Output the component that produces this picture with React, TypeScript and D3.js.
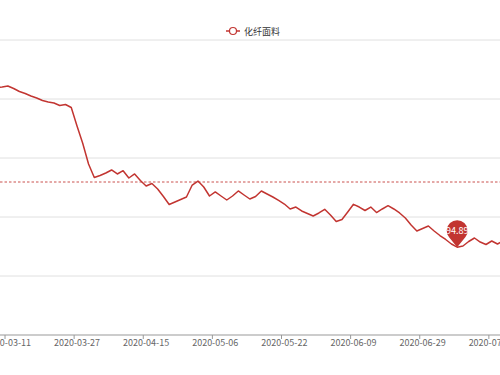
import React from "react";
import * as d3 from "d3";

const seriesName = "化纤面料";

const dates: string[] = [
  "2020-03-09", "2020-03-10",
  "2020-03-11", "2020-03-12", "2020-03-13", "2020-03-16", "2020-03-17", "2020-03-18", "2020-03-19", "2020-03-20",
  "2020-03-23", "2020-03-24", "2020-03-25", "2020-03-26", "2020-03-27", "2020-03-30", "2020-03-31", "2020-04-01",
  "2020-04-02", "2020-04-03", "2020-04-07", "2020-04-08", "2020-04-09", "2020-04-10", "2020-04-13", "2020-04-14",
  "2020-04-15", "2020-04-16", "2020-04-17", "2020-04-20", "2020-04-21", "2020-04-22", "2020-04-23", "2020-04-24",
  "2020-04-27", "2020-04-28", "2020-04-29", "2020-04-30", "2020-05-06", "2020-05-07", "2020-05-08", "2020-05-11",
  "2020-05-12", "2020-05-13", "2020-05-14", "2020-05-15", "2020-05-18", "2020-05-19", "2020-05-20", "2020-05-21",
  "2020-05-22", "2020-05-25", "2020-05-26", "2020-05-27", "2020-05-28", "2020-05-29", "2020-06-01", "2020-06-02",
  "2020-06-03", "2020-06-04", "2020-06-05", "2020-06-08", "2020-06-09", "2020-06-10", "2020-06-11", "2020-06-12",
  "2020-06-15", "2020-06-16", "2020-06-17", "2020-06-18", "2020-06-19", "2020-06-22", "2020-06-23", "2020-06-24",
  "2020-06-29", "2020-06-30", "2020-07-01", "2020-07-02", "2020-07-03", "2020-07-06", "2020-07-07", "2020-07-08",
  "2020-07-09", "2020-07-10", "2020-07-13", "2020-07-14", "2020-07-15", "2020-07-16", "2020-07-17",
];

const values: number[] = [
  121.95, 122.03,
  122.2, 121.78, 121.27, 120.93, 120.51, 120.17, 119.75, 119.49,
  119.32, 118.9, 119.07, 118.56, 115.42, 112.46, 108.98, 106.69,
  107.03, 107.46, 107.97, 107.29, 107.85, 106.61, 107.29, 106.19,
  105.25, 105.68, 104.75, 103.47, 102.12, 102.54, 102.97, 103.39,
  105.42, 106.1, 105.08, 103.56, 104.24, 103.56, 102.88, 103.56,
  104.41, 103.73, 103.05, 103.47, 104.41, 103.9, 103.39, 102.8,
  102.2, 101.36, 101.69, 101.02, 100.59, 100.17, 100.68, 101.31,
  100.34, 99.24, 99.58, 100.85, 102.15, 101.69, 101.1, 101.69,
  100.76, 101.36, 101.92, 101.36, 100.68, 99.83, 98.64, 97.63,
  98.05, 98.47, 97.63, 96.86, 96.19, 95.42, 94.89, 95.08,
  95.85, 96.44, 95.76, 95.34, 95.93, 95.42, 95.93,
];

const averageValue = 105.93;
const yTicks = [80, 90, 100, 110, 120, 130];
const labelEvery = 12;
const firstLabelIndex = 2;

const W = 500;
const H = 375;
const RED = "#c23531";
const FONT = "'Noto Sans CJK SC', 'Noto Sans', sans-serif";

export default function App() {
  const step = 5.76;
  const x = d3
    .scaleBand<number>()
    .domain(d3.range(values.length))
    .range([-6.5, -6.5 + step * values.length])
    .paddingInner(0)
    .paddingOuter(0);
  const cx = (i: number) => (x(i) as number) + x.bandwidth() / 2;
  const y = d3.scaleLinear().domain([80, 130]).range([335, 40]);

  const line = d3
    .line<number>()
    .x((_, i) => cx(i))
    .y((d) => y(d));

  const minIdx = d3.minIndex(values);
  const minVal = values[minIdx];
  const tipX = cx(minIdx);
  const tipY = y(minVal);
  const r = 10.5;
  const dist = 16.5;
  const pcy = tipY - dist;
  const cosT = r / dist;
  const sinT = Math.sqrt(1 - cosT * cosT);
  const pinPath = `M${tipX},${tipY} L${tipX - r * sinT},${pcy + r * cosT} A${r},${r} 0 1 1 ${tipX + r * sinT},${pcy + r * cosT} Z`;

  const labelIdx = d3.range(values.length).filter((i) => i >= firstLabelIndex && (i - firstLabelIndex) % labelEvery === 0);

  return (
    <svg width={W} height={H} style={{ position: "absolute", left: 0, top: 0, background: "#fff" }}>
      {/* grid */}
      {yTicks.slice(1).map((t) => (
        <line key={t} x1={0} x2={W} y1={y(t)} y2={y(t)} stroke="#e0e0e0" strokeWidth={1} />
      ))}
      {/* x axis */}
      <line x1={0} x2={W} y1={y(80)} y2={y(80)} stroke="#999" strokeWidth={1} />
      {labelIdx.map((i) => (
        <g key={i}>
          <line x1={x(i) as number} x2={x(i) as number} y1={y(80)} y2={y(80) + 4} stroke="#999" strokeWidth={1} />
          <text x={cx(i)} y={y(80) + 11} textAnchor="middle" fontSize={9} fill="#666" fontFamily={FONT}>
            {dates[i]}
          </text>
        </g>
      ))}
      {/* average mark line */}
      <line x1={0} x2={W} y1={y(averageValue)} y2={y(averageValue)} stroke={RED} strokeWidth={1} strokeDasharray="2.5,2" opacity={0.85} />
      {/* series */}
      <path d={line(values) || ""} fill="none" stroke={RED} strokeWidth={1.5} strokeLinejoin="round" />
      {/* min pin */}
      <path d={pinPath} fill={RED} />
      <text x={tipX} y={pcy + 3} textAnchor="middle" fontSize={9} fill="#fff" fontFamily={FONT}>
        {minVal.toFixed(2)}
      </text>
      {/* legend */}
      <g>
        <line x1={226} x2={240} y1={31} y2={31} stroke={RED} strokeWidth={1.5} />
        <circle cx={233} cy={31} r={3.5} fill="#fff" stroke={RED} strokeWidth={1.2} />
        <text x={244} y={34.5} fontSize={9} fill="#333" fontFamily={FONT}>
          {seriesName}
        </text>
      </g>
    </svg>
  );
}
